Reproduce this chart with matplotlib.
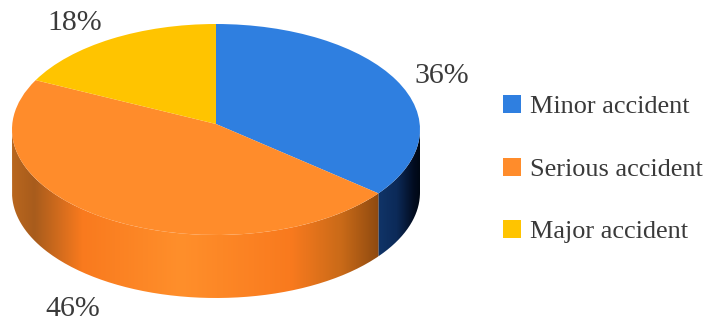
import numpy as np
import matplotlib
matplotlib.use("Agg")
import matplotlib.pyplot as plt
from matplotlib.colors import LinearSegmentedColormap
from matplotlib.patches import PathPatch, Rectangle
from matplotlib.path import Path

categories = ["Minor accident", "Serious accident", "Major accident"]
values = [36, 46, 18]
pct_labels = ["36%", "46%", "18%"]
colors = ["#2F7FE0", "#FF8C2B", "#FFC400"]

W, H = 716, 329
CX, CY, RX, RY, DEPTH = 216, 129.5, 204, 105.5, 63
TILT = 5.5 / 105.5  # perspective shift of the pie's apex

plt.rcParams["font.family"] = ["Liberation Serif", "DejaVu Serif"]
fig = plt.figure(figsize=(W / 100, H / 100), dpi=100)
ax = fig.add_axes([0, 0, 1, 1])

xlim = (-CX / RX, (W - CX) / RX)
ylim = (-(H - CY) / RY, CY / RY)
d = DEPTH / RY


def persp(x, y):
    den = 1 + TILT * y
    return x * np.sqrt(1 - TILT ** 2) / den, (y + TILT) / den


def side(a0, a1, stops, cols):
    th = np.radians(np.linspace(a0, a1, 160))
    x, y = np.cos(th), np.sin(th)
    verts = np.r_[np.c_[x, y], np.c_[x[::-1], y[::-1] - d], [[x[0], y[0]]]]
    cm = LinearSegmentedColormap.from_list("s", list(zip(stops, cols)))
    grad = np.linspace(0, 1, 512)[None, :]
    im = ax.imshow(grad, cmap=cm, extent=[x.min(), x.max(), y.min() - d, y.max()],
                   aspect="auto", zorder=1, interpolation="bilinear")
    p = PathPatch(Path(verts), transform=ax.transData, fc="none", ec="none")
    ax.add_patch(p)
    im.set_clip_path(p)


fr = np.cumsum([0] + values) / sum(values)
ang = np.radians(90 - 360 * fr)
bx, by = persp(np.cos(ang[1]), np.sin(ang[1]))
split = np.degrees(np.arctan2(by, bx))
side(0, split, [0, 0.45, 0.85, 1], ["#103468", "#0C2A58", "#020C20", "#000814"])
side(split, -180, [0, 0.06, 0.19, 0.46, 0.76, 0.9, 1],
     ["#B8661E", "#A85C1C", "#F97A1E", "#FF8F2B", "#F97A1E", "#C96A18", "#8F4A10"])

wedges, _ = ax.pie(values, colors=colors, startangle=90, counterclock=False,
                   radius=1, center=(0, 0), frame=True,
                   wedgeprops=dict(linewidth=0))
for w in wedges:
    w.set_zorder(3)
    v = w.get_path().vertices
    v[:, 0], v[:, 1] = persp(v[:, 0].copy(), v[:, 1].copy())
ax.set_aspect("auto")
ax.set_xlim(*xlim)
ax.set_ylim(*ylim)
ax.axis("off")


def px(x, y):
    return (x - CX) / RX, (CY - y) / RY


for lab, (x, y) in zip(pct_labels, [(442, 76), (73, 309), (75, 23)]):
    ax.text(*px(x, y), lab, fontsize=21.5, color="#3A3A3A", ha="center", va="center", zorder=5)

for c, name, y in zip(colors, categories, [104, 166.5, 229]):
    x0, y0 = px(503, y + 9)
    ax.add_patch(Rectangle((x0, y0), 18 / RX, 18 / RY, fc=c, ec="none", zorder=5))
    ax.text(*px(530, y + 3), name, fontsize=18.9, color="#3A3A3A", ha="left", va="center", zorder=5)

fig.savefig("out.png", dpi=100)
